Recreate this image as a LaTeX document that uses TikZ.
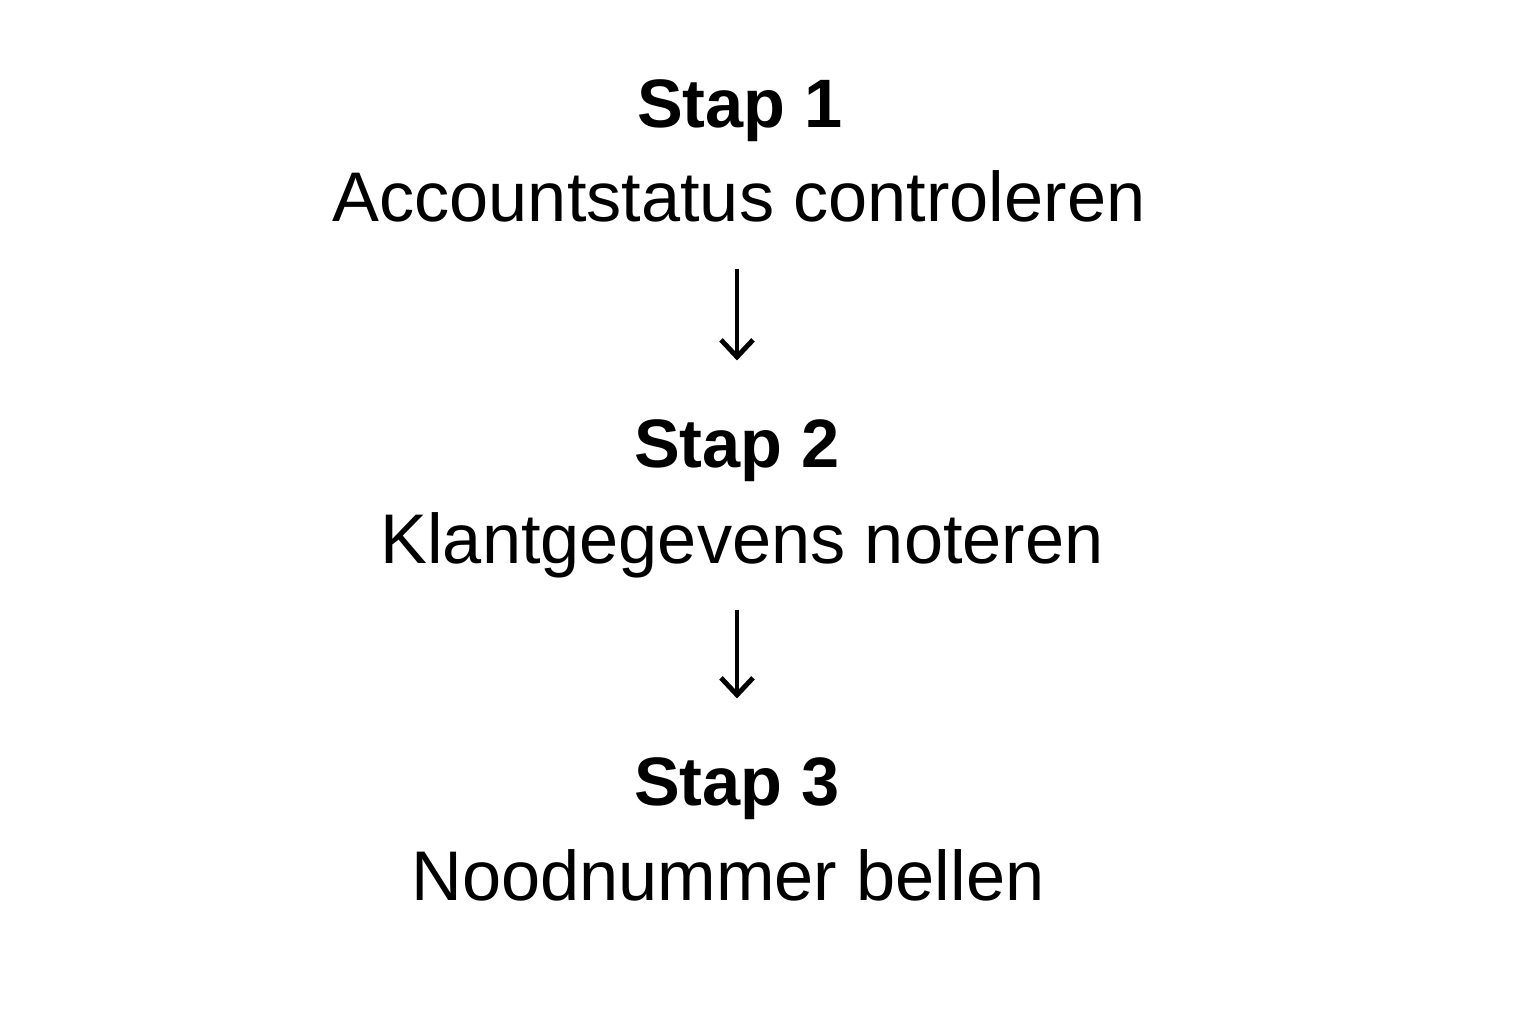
\documentclass[tikz,border=0pt]{standalone}
\usepackage{fontspec}
\setmainfont{Liberation Sans}
\usepackage{tikz}
\usetikzlibrary{arrows.meta,positioning}

\begin{document}
\begin{tikzpicture}[
    steptitle/.style={anchor=base, inner sep=0pt, text depth=0pt, font=\fontsize{19.5}{24}\selectfont\bfseries},
    stepdesc/.style={anchor=base, inner sep=0pt, text depth=0pt, font=\fontsize{20}{24}\selectfont},
    flow/.style={-{Straight Barb[length=1.7mm, width=3.2mm]}, line width=1.4pt, shorten <=4.6mm, shorten >=5.8mm}
]
    \useasboundingbox (0,0) rectangle (15.36,10.24);

    \node[steptitle] (step1) at (7.40,8.96) {Stap 1};
    \node[stepdesc]  (desc1) at (7.39,8.02) {Accountstatus controleren};

    \node[steptitle] (step2) at (7.37,5.57) {Stap 2};
    \node[stepdesc]  (desc2) at (7.42,4.61) {Klantgegevens noteren};

    \node[steptitle] (step3) at (7.37,2.19) {Stap 3};
    \node[stepdesc]  (desc3) at (7.28,1.24) {Noodnummer bellen};

    % arrows between the steps
    \draw[flow] (step2.north |- desc1.south) -- (step2.north);
    \draw[flow] (step3.north |- desc2.south) -- (step3.north);
\end{tikzpicture}
\end{document}
